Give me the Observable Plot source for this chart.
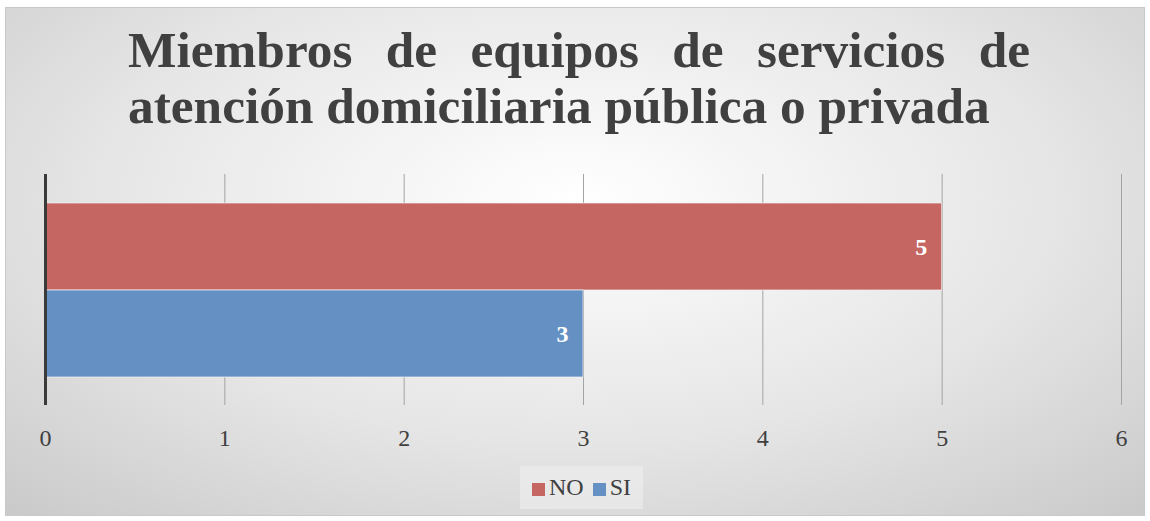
<!DOCTYPE html>
<html>
<head>
<meta charset="utf-8">
<script src="https://cdn.jsdelivr.net/npm/d3@7"></script>
<script src="https://cdn.jsdelivr.net/npm/@observablehq/plot@0.6"></script>
<style>
  html, body { margin: 0; padding: 0; background: #fff; }
  #frame {
    position: absolute; left: 5px; top: 7px; width: 1140px; height: 509px;
    border: 1px solid #c9c9c9; box-sizing: border-box; overflow: hidden;
    background: radial-gradient(ellipse 75% 85% at 50% 38%, #ffffff 0%, #e6e6e6 55%, #c9c9c9 100%);
  }
  .title {
    position: absolute; left: 122px; width: 902px; color: #404040;
    font-family: "Liberation Serif", serif; font-weight: bold; white-space: nowrap;
    line-height: 1;
  }
  #t1 { text-align: justify; text-align-last: justify; white-space: normal; }
  #chart { position: absolute; left: -6px; top: -8px; width: 1150px; height: 470px; }
  #chart svg { max-width: none !important; }
  #legend {
    position: absolute; left: 514px; top: 458px; width: 123px; height: 43px;
    background: rgba(240,240,240,0.55);
    font-family: "Liberation Serif", serif; font-size: 24px; color: #404040;
    display: flex; align-items: center; justify-content: center; gap: 9px;
  }
  .sw { display: inline-block; width: 13px; height: 13px; margin-right: 4px; vertical-align: -1px; }
</style>
</head>
<body>
<div id="frame">
  <div id="t1" class="title"></div>
  <div id="t2" class="title"></div>
  <div id="chart"></div>
  <div id="legend"></div>
</div>
<script>
const titleLines = ["Miembros de equipos de servicios de", "atención domiciliaria pública o privada"];
const categories = ["NO", "SI"];
const values = [5, 3];
const colors = ["#c66662", "#6590c4"];
const xTicks = [0, 1, 2, 3, 4, 5, 6];

// title sizing: fit line 2 to its measured width in the reference
const ctx = document.createElement("canvas").getContext("2d");
ctx.font = 'bold 100px "Liberation Serif"';
const w2 = ctx.measureText(titleLines[1]).width;
const fs = 100 * 862 / w2;
const t1 = document.getElementById("t1"), t2 = document.getElementById("t2");
t1.textContent = titleLines[0]; t2.textContent = titleLines[1];
for (const [el, baseline] of [[t1, 59], [t2, 115]]) {
  el.style.fontSize = fs + "px";
  el.style.top = (baseline - 0.891 * fs - (1 - 0.891 - 0.216) * fs / 2) + "px";
}

const data = categories.map((c, i) => ({category: c, value: values[i]}));

const chart = Plot.plot({
  width: 1150,
  height: 470,
  marginLeft: 45,
  marginRight: 29,
  marginTop: 174,
  marginBottom: 65,
  style: {background: "transparent", fontFamily: "Liberation Serif, serif", maxWidth: "none"},
  x: {domain: [0, 6]},
  y: {domain: categories, paddingInner: 0, paddingOuter: 0.32, axis: null},
  color: {domain: categories, range: colors},
  marks: [
    Plot.gridX(xTicks.slice(1), {stroke: "#a3a3a3", strokeOpacity: 1}),
    Plot.barX(data, {y: "category", x: "value", fill: "category", stroke: "#f2f2f2", strokeOpacity: 0.7, strokeWidth: 1}),
    Plot.text(data, {y: "category", x: "value", text: d => String(d.value), textAnchor: "end", dx: -15, fill: "#ffffff", fontWeight: "bold", fontSize: 24}),
    Plot.ruleX([0], {stroke: "#3a3a3a", strokeWidth: 3}),
    Plot.axisX({ticks: xTicks, tickFormat: d3.format("d"), tickSize: 0, tickPadding: 23, fontSize: 24, color: "#404040", label: null})
  ]
});
document.getElementById("chart").appendChild(chart);

const legend = document.getElementById("legend");
categories.forEach((c, i) => {
  const item = document.createElement("span");
  const sw = document.createElement("span");
  sw.className = "sw"; sw.style.background = colors[i];
  item.appendChild(sw);
  item.appendChild(document.createTextNode(c));
  legend.appendChild(item);
});
</script>
</body>
</html>
